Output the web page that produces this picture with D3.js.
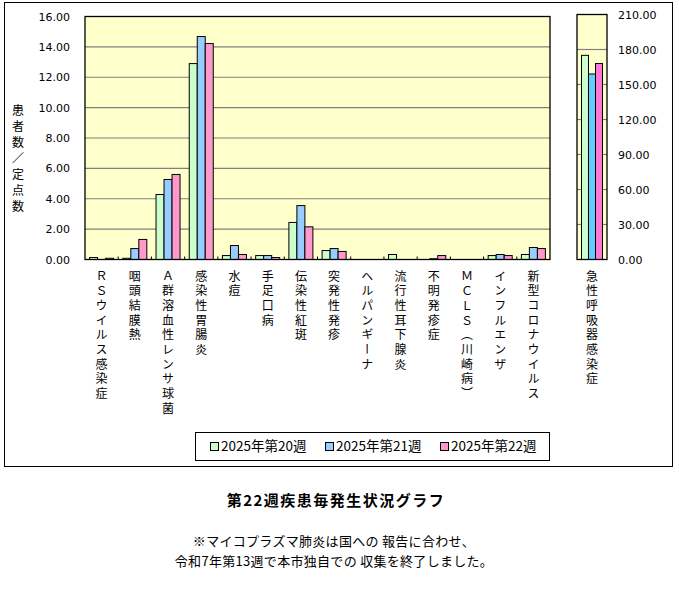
<!DOCTYPE html><html><head><meta charset="UTF-8"><script src="https://d3js.org/d3.v7.min.js"></script><style>
  body { margin: 0; background: #fff; }
  svg text { font-family: "Noto Sans CJK JP", sans-serif; fill: #000; }
  .num { font-family: "DejaVu Sans", sans-serif; font-size: 11px; }
  .vlab { writing-mode: vertical-rl; font-size: 12px; letter-spacing: 2.7px; }
</style></head><body><div id="chart"></div><script>
const categories = ["ＲＳウイルス感染症", "咽頭結膜熱", "Ａ群溶血性レンサ球菌", "感染性胃腸炎", "水痘", "手足口病", "伝染性紅斑", "突発性発疹", "ヘルパンギーナ", "流行性耳下腺炎", "不明発疹症", "ＭＣＬＳ（川崎病）", "インフルエンザ", "新型コロナウイルス"];
const seriesNames = ["2025年第20週", "2025年第21週", "2025年第22週"];
const week20 = [0.13, 0.08, 4.28, 12.90, 0.26, 0.26, 2.44, 0.59, 0, 0.33, 0, 0, 0.26, 0.33];
const week21 = [0, 0.72, 5.27, 14.68, 0.92, 0.26, 3.55, 0.72, 0, 0, 0.05, 0, 0.33, 0.79];
const week22 = [0.08, 1.32, 5.60, 14.22, 0.33, 0.13, 2.15, 0.53, 0, 0, 0.26, 0, 0.26, 0.72];
const ariCategory = "急性呼吸器感染症";
const ariValues = [175, 159, 168];
const leftTicks = [0, 2, 4, 6, 8, 10, 12, 14, 16];
const rightTicks = [0, 30, 60, 90, 120, 150, 180, 210];
const leftColors = ["#ccffcc", "#99ccff", "#ff99cc"];
const rightColors = ["#ccffcc", "#66ccff", "#ff77d4"];

const svg = d3.select('#chart').append('svg')
  .attr('width', 679).attr('height', 590);

// outer frame
svg.append('rect').attr('x', 4.5).attr('y', 2.5).attr('width', 668).attr('height', 464)
  .attr('fill', 'none').attr('stroke', '#000');

// ---- left panel
const x = d3.scaleBand().domain(categories).range([85, 550]);
const xs = d3.scaleBand().domain(seriesNames).range([0, x.bandwidth()]).paddingOuter(0.575);
const y = d3.scaleLinear().domain([0, 16]).range([259.5, 16.5]);

svg.append('rect').attr('x', 85).attr('y', y(16)).attr('width', 465).attr('height', y(0) - y(16))
  .attr('fill', '#ffffcc');
svg.append('g').selectAll('line').data(leftTicks.filter(d => d > 0 && d < 16)).join('line')
  .attr('x1', 85).attr('x2', 550).attr('y1', d => y(d)).attr('y2', d => y(d))
  .attr('stroke', '#808080').attr('stroke-width', 1.2);

const leftSeries = [week20, week21, week22];
leftSeries.forEach((vals, si) => {
  svg.append('g').selectAll('rect').data(categories.map((c, i) => ({c, v: vals[i]})).filter(d => d.v > 0)).join('rect')
    .attr('x', d => x(d.c) + xs(seriesNames[si]))
    .attr('y', d => y(d.v))
    .attr('width', xs.bandwidth())
    .attr('height', d => y(0) - y(d.v))
    .attr('fill', leftColors[si]).attr('stroke', '#000').attr('stroke-width', 1);
});

svg.append('rect').attr('x', 85).attr('y', y(16)).attr('width', 465).attr('height', y(0) - y(16))
  .attr('fill', 'none').attr('stroke', '#000').attr('stroke-width', 1.3);
// category ticks
svg.append('g').selectAll('line').data(categories.slice(1)).join('line')
  .attr('x1', d => x(d)).attr('x2', d => x(d)).attr('y1', y(0)).attr('y2', y(0) - 3)
  .attr('stroke', '#000');

svg.append('g').selectAll('text').data(leftTicks).join('text')
  .attr('class', 'num').attr('x', 70).attr('y', d => y(d) + 4)
  .attr('text-anchor', 'end').text(d => d.toFixed(2));

svg.append('text').attr('class', 'vlab').attr('x', 18).attr('y', 104)
  .style('font-size', '12px').style('letter-spacing', '4px')
  .text('患者数／定点数');

svg.append('g').selectAll('text').data(categories).join('text')
  .attr('class', 'vlab').attr('x', d => x(d) + x.bandwidth() / 2).attr('y', 270)
  .text(d => d);

// ---- right panel
const xr = d3.scaleBand().domain(seriesNames).range([577, 607]).paddingOuter(0.64);
const yr = d3.scaleLinear().domain([0, 210]).range([259.5, 14.5]);

svg.append('rect').attr('x', 577).attr('y', yr(210)).attr('width', 30).attr('height', yr(0) - yr(210))
  .attr('fill', '#ffffcc');
svg.append('g').selectAll('line').data(rightTicks.filter(d => d > 0 && d < 210)).join('line')
  .attr('x1', 577).attr('x2', 607).attr('y1', d => yr(d)).attr('y2', d => yr(d))
  .attr('stroke', '#808080').attr('stroke-width', 1.2);
svg.append('g').selectAll('rect').data(ariValues).join('rect')
  .attr('x', (d, i) => xr(seriesNames[i]))
  .attr('y', d => yr(d))
  .attr('width', xr.bandwidth())
  .attr('height', d => yr(0) - yr(d))
  .attr('fill', (d, i) => rightColors[i]).attr('stroke', '#000');
svg.append('rect').attr('x', 577).attr('y', yr(210)).attr('width', 30).attr('height', yr(0) - yr(210))
  .attr('fill', 'none').attr('stroke', '#000').attr('stroke-width', 1.3);
svg.append('g').selectAll('text').data(rightTicks).join('text')
  .attr('class', 'num').attr('x', 618).attr('y', d => yr(d) + 4)
  .text(d => d.toFixed(2));
svg.append('text').attr('class', 'vlab').attr('x', 592).attr('y', 270).text(ariCategory);

// ---- legend
svg.append('rect').attr('x', 195.5).attr('y', 432.5).attr('width', 354).attr('height', 28)
  .attr('fill', '#fff').attr('stroke', '#000');
const legendX = [210, 325, 440];
seriesNames.forEach((name, i) => {
  svg.append('rect').attr('x', legendX[i] + 0.5).attr('y', 442.5).attr('width', 8).attr('height', 8)
    .attr('fill', leftColors[i]).attr('stroke', '#000');
  svg.append('text').attr('x', legendX[i] + 11).attr('y', 451).style('font-size', '13.5px').text(name);
});

// ---- captions
svg.append('text').attr('x', 336).attr('y', 506).attr('text-anchor', 'middle')
  .style('font-size', '15px').style('font-weight', 'bold').style('letter-spacing', '1.5px')
  .text('第22週疾患毎発生状況グラフ');
svg.append('text').attr('x', 334).attr('y', 546).attr('text-anchor', 'middle')
  .style('font-size', '13px').style('letter-spacing', '0.3px')
  .text('※マイコプラズマ肺炎は国への 報告に合わせ、');
svg.append('text').attr('x', 334).attr('y', 566).attr('text-anchor', 'middle')
  .style('font-size', '13px').style('letter-spacing', '0.3px')
  .text('令和7年第13週で本市独自での 収集を終了しました。');
</script></body></html>
